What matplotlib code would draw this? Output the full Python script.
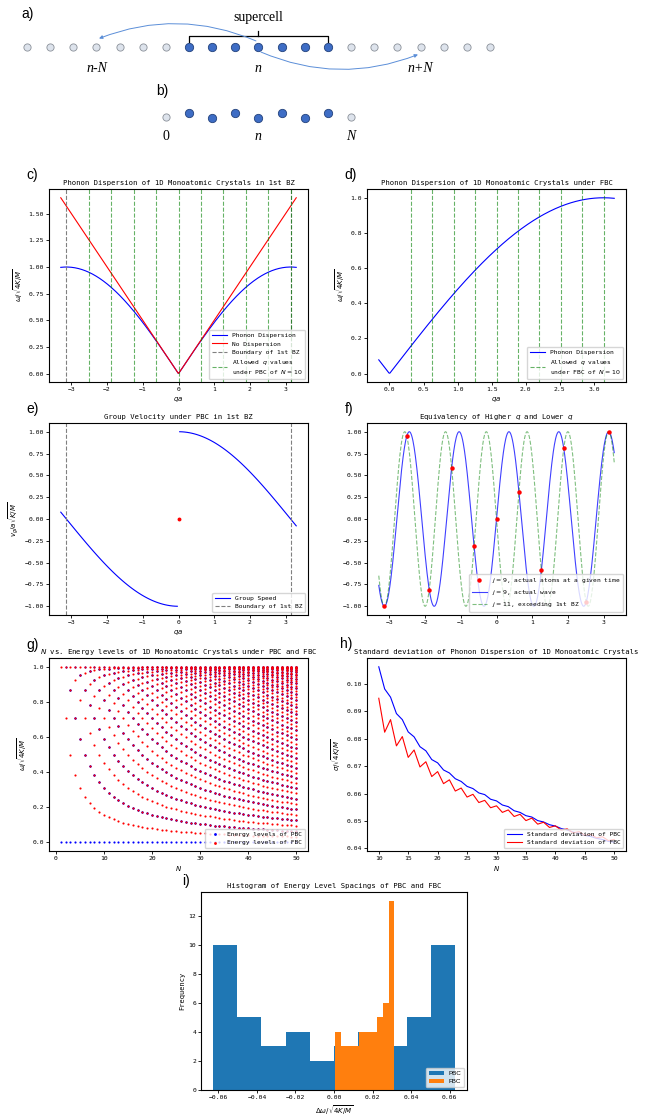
import numpy as np
import matplotlib
matplotlib.use('Agg')
import matplotlib.pyplot as plt
from matplotlib.patches import FancyArrowPatch

# ---------------- data ----------------
# schematic a): atom indices in the infinite chain, supercell members
chain_index = np.arange(-10, 11)
supercell_index = np.arange(-3, 4)
chain_label_index = [-7, 0, 7]
chain_labels = ['n-N', 'n', 'n+N']
# schematic b): finite chain with fixed ends, relative displacement of atoms
fbc_index = np.arange(-4, 5)
fbc_disp = [0, -1, 1, -1, 1, -1, 1, -1, 0]
fbc_label_index = [-4, 0, 4]
fbc_labels = ['0', 'n', 'N']

# dispersion panels
N_demo = 10
qa_extent_factor = 1.05
pbc_allowed_j = np.arange(-4, 6)
fbc_allowed_j = np.arange(1, 11)

# equivalence panel
wave_j = 9
alias_j = 11
atom_n = np.arange(-5, 6)

# energy level panel
N_levels = np.arange(1, 51)

# standard deviation panel
N_std = np.arange(10, 51)
std_pbc = [0.1063, 0.0982, 0.0952, 0.0892, 0.0870, 0.0825, 0.0807, 0.0771, 0.0756, 0.0724,
           0.0712, 0.0686, 0.0675, 0.0654, 0.0644, 0.0626, 0.0618, 0.0602, 0.0596, 0.0579,
           0.0573, 0.0558, 0.0552, 0.0537, 0.0531, 0.0519, 0.0514, 0.0501, 0.0496, 0.0486,
           0.0481, 0.0472, 0.0467, 0.0459, 0.0455, 0.0447, 0.0443, 0.0436, 0.0432, 0.0425,
           0.0422]
std_fbc = [0.0948, 0.0824, 0.0870, 0.0774, 0.0808, 0.0732, 0.0759, 0.0697, 0.0716, 0.0662,
           0.0680, 0.0636, 0.0650, 0.0609, 0.0620, 0.0587, 0.0597, 0.0567, 0.0575, 0.0548,
           0.0555, 0.0531, 0.0540, 0.0516, 0.0524, 0.0501, 0.0510, 0.0488, 0.0495, 0.0476,
           0.0482, 0.0466, 0.0471, 0.0456, 0.0461, 0.0447, 0.0451, 0.0438, 0.0442, 0.0428,
           0.0432]

# histogram panel
hist_pbc_edges = np.linspace(-0.0628, 0.0628, 11)
hist_pbc_counts = [10, 5, 3, 4, 2, 3, 4, 3, 5, 10]
hist_fbc_edges = np.linspace(0.00049, 0.0314, 11)
hist_fbc_counts = [4, 3, 3, 3, 4, 4, 4, 5, 6, 13]

# ---------------- style ----------------
plt.rcParams['font.family'] = ['DejaVu Sans Mono', 'DejaVu Sans']
plt.rcParams['font.size'] = 4.6
plt.rcParams['axes.linewidth'] = 0.8
plt.rcParams['xtick.major.size'] = 2
plt.rcParams['ytick.major.size'] = 2
plt.rcParams['xtick.major.width'] = 0.6
plt.rcParams['ytick.major.width'] = 0.6
plt.rcParams['xtick.major.pad'] = 1.5
plt.rcParams['ytick.major.pad'] = 1.5
plt.rcParams['xtick.labelsize'] = 4.6
plt.rcParams['ytick.labelsize'] = 4.6
plt.rcParams['axes.labelsize'] = 5
plt.rcParams['axes.titlesize'] = 5.2
plt.rcParams['axes.titlepad'] = 3
plt.rcParams['axes.labelpad'] = 2.5
plt.rcParams['legend.fontsize'] = 4.5
plt.rcParams['legend.handlelength'] = 2.4
plt.rcParams['lines.linewidth'] = 0.8

W, H = 656, 1119
fig = plt.figure(figsize=(W / 100, H / 100), dpi=100)


def rect(l, t, r, b):
    return [l / W, 1 - b / H, (r - l) / W, (b - t) / H]


def label(txt, x, y, size=10):
    fig.text(x / W, 1 - y / H, txt, ha='left', va='center', fontsize=size,
             family=['Liberation Sans', 'DejaVu Sans'])


# ---------------- schematic ----------------
x0px, dpx = 27, 23.15
ax0 = fig.add_axes([0, 1 - 150 / H, 1, 150 / H])
ax0.set_xlim(-10 - x0px / dpx, -10 + (W - x0px) / dpx)
ax0.set_ylim(150, 0)
ax0.axis('off')

light_fc, light_ec = '#dde3ec', '#8b9099'
dark_fc, dark_ec = '#3e6dc5', '#23427c'
row_a = 47
is_dark = np.isin(chain_index, supercell_index)
ax0.scatter(chain_index[~is_dark], np.full((~is_dark).sum(), row_a), s=27,
            fc=light_fc, ec=light_ec, lw=0.6, zorder=3)
ax0.scatter(chain_index[is_dark], np.full(is_dark.sum(), row_a), s=36,
            fc=dark_fc, ec=dark_ec, lw=0.6, zorder=3)
# bracket
bl, br = supercell_index.min(), supercell_index.max()
bc = supercell_index.mean()
ax0.plot([bl, bl, br, br], [42, 36, 36, 42], color='black', lw=0.9)
ax0.plot([bc, bc], [36, 31], color='black', lw=0.9)
ax0.text(bc, 18, 'supercell', ha='center', va='center', fontsize=10,
         family='Liberation Serif')
for i, t in zip(chain_label_index, chain_labels):
    ax0.text(i, 68, t, ha='center', va='center', fontsize=10,
             family='Liberation Serif', style='italic')
arrow_c = '#5b8ed8'
a1 = FancyArrowPatch((0, 42), (chain_label_index[0], 39.5),
                     connectionstyle='arc3,rad=0.21', arrowstyle='-|>',
                     mutation_scale=5, color=arrow_c, lw=0.7, zorder=4)
a2 = FancyArrowPatch((0, 51), (chain_label_index[2], 53.5),
                     connectionstyle='arc3,rad=0.21', arrowstyle='-|>',
                     mutation_scale=5, color=arrow_c, lw=0.7, zorder=4)
ax0.add_patch(a1)
ax0.add_patch(a2)

# b)
row_b = 115.5
disp_scale = 2.6
ydisp = row_b + disp_scale * np.array(fbc_disp)
ends = np.array([i in (fbc_index.min(), fbc_index.max()) for i in fbc_index])
ax0.scatter(fbc_index[ends], ydisp[ends] + 1.5, s=27, fc=light_fc, ec=light_ec, lw=0.6, zorder=3)
ax0.scatter(fbc_index[~ends], ydisp[~ends], s=36, fc=dark_fc, ec=dark_ec, lw=0.6, zorder=3)
for i, t in zip(fbc_label_index, fbc_labels):
    ax0.text(i, 137, t, ha='center', va='center', fontsize=10,
             family='Liberation Serif', style='normal' if t == '0' else 'italic')

label('a)', 21, 14)
label('b)', 156, 91)

# ---------------- c) ----------------
qmax = qa_extent_factor * np.pi
q = np.linspace(-qmax, qmax, 400)
axc = fig.add_axes(rect(49, 189, 308, 382))
axc.plot(q, np.abs(np.sin(q / 2)), color='blue', label='Phonon Dispersion')
axc.plot(q, np.abs(q) / 2, color='red', label='No Dispersion')
axc.axvline(-np.pi, color='gray', ls='--', lw=0.8, label='Boundary of 1st BZ')
axc.axvline(np.pi, color='gray', ls='--', lw=0.8)
for k, j in enumerate(pbc_allowed_j):
    axc.axvline(2 * np.pi * j / N_demo, color='green', alpha=0.6, ls='--', lw=0.8,
                label=('Allowed $q$ values\nunder PBC of $N=10$' if k == 0 else None))
axc.set_title('Phonon Dispersion of 1D Monoatomic Crystals in 1st BZ')
axc.set_xlabel('$qa$')
axc.set_ylabel(r'$\omega/\sqrt{4K/M}$')
axc.legend(loc='lower right')
label('c)', 26, 175)

# ---------------- d) ----------------
qd = np.linspace(-(qa_extent_factor - 1) * np.pi, qmax, 300)
axd = fig.add_axes(rect(367, 189, 626, 382))
axd.plot(qd, np.abs(np.sin(qd / 2)), color='blue', label='Phonon Dispersion')
for k, j in enumerate(fbc_allowed_j):
    axd.axvline(np.pi * j / N_demo, color='green', alpha=0.6, ls='--', lw=0.8,
                label=('Allowed $q$ values\nunder FBC of $N=10$' if k == 0 else None))
axd.set_title('Phonon Dispersion of 1D Monoatomic Crystals under FBC')
axd.set_xlabel('$qa$')
axd.set_ylabel(r'$\omega/\sqrt{4K/M}$')
axd.legend(loc='lower right')
label('d)', 344, 175)

# ---------------- e) ----------------
qe = np.linspace(-qmax, qmax, 100)
axe = fig.add_axes(rect(49, 423, 308, 615))
neg = qe < 0
pos = qe > 0
axe.plot(qe[neg], -np.cos(qe[neg] / 2), color='blue', label='Group Speed')
axe.plot(qe[pos], np.cos(qe[pos] / 2), color='blue')
axe.plot([0], [0], 'o', color='red', ms=1.8)
axe.axvline(-np.pi, color='gray', ls='--', lw=0.8, label='Boundary of 1st BZ')
axe.axvline(np.pi, color='gray', ls='--', lw=0.8)
axe.set_title('Group Velocity under PBC in 1st BZ')
axe.set_xlabel('$qa$')
axe.set_ylabel(r'$v_g/a\sqrt{K/M}$')
axe.legend(loc='lower right')
label('e)', 26, 409)

# ---------------- f) ----------------
xf = np.linspace(-qmax, qmax, 600)
xa = 2 * np.pi * atom_n / N_demo
axf = fig.add_axes(rect(367, 423, 626, 615))
axf.plot(xa, np.sin(wave_j * xa / 2), 'o', color='red', ms=2.2,
         label='$j=9$, actual atoms at a given time', zorder=3)
axf.plot(xf, np.sin(wave_j * xf / 2), color='blue', alpha=0.75, label='$j=9$, actual wave')
axf.plot(xf, -np.sin(alias_j * xf / 2), color='green', alpha=0.5, ls='--',
         label='$j=11$, exceeding 1st BZ')
axf.set_title('Equivalency of Higher $q$ and Lower $q$')
axf.legend(loc='lower right')
label('f)', 345, 409)

# ---------------- g) ----------------
axg = fig.add_axes(rect(49, 658, 308, 851))
px, py, fx, fy = [], [], [], []
for N in N_levels:
    jp = np.arange(N)
    px.append(np.full(N, N))
    py.append(np.abs(np.sin(np.pi * jp / N)))
    jf = np.arange(1, N + 1)
    fx.append(np.full(N, N))
    fy.append(np.sin(np.pi * jf / (2 * N)))
axg.scatter(np.concatenate(px), np.concatenate(py), s=2.4, color='blue', lw=0,
            label='Energy levels of PBC')
axg.scatter(np.concatenate(fx), np.concatenate(fy), s=2.4, color='red', lw=0,
            label='Energy levels of FBC')
axg.set_title('$N$ vs. Energy levels of 1D Monoatomic Crystals under PBC and FBC')
axg.set_xlabel('$N$')
axg.set_ylabel(r'$\omega/\sqrt{4K/M}$')
axg.legend(loc='lower right', markerscale=1.3)
label('g)', 26, 645)

# ---------------- h) ----------------
axh = fig.add_axes(rect(367, 658, 626, 851))
axh.plot(N_std, std_pbc, color='blue', label='Standard deviation of PBC')
axh.plot(N_std, std_fbc, color='red', label='Standard deviation of FBC')
axh.set_title('Standard deviation of Phonon Dispersion of 1D Monoatomic Crystals')
axh.set_xlabel('$N$')
axh.set_ylabel(r'$\sigma/\sqrt{4K/M}$')
axh.legend(loc='lower right')
label('h)', 340, 644)

# ---------------- i) ----------------
axi = fig.add_axes(rect(201, 892, 467, 1090))
axi.hist(hist_pbc_edges[:-1], bins=hist_pbc_edges, weights=hist_pbc_counts,
         color='tab:blue', label='PBC')
axi.hist(hist_fbc_edges[:-1], bins=hist_fbc_edges, weights=hist_fbc_counts,
         color='tab:orange', label='FBC')
axi.set_title('Histogram of Energy Level Spacings of PBC and FBC')
axi.set_xlabel(r'$\Delta\omega/\sqrt{4K/M}$')
axi.set_ylabel('Frequency')
axi.legend(loc='lower right', prop={'family': ['Liberation Sans', 'DejaVu Sans'], 'size': 4.5})
label('i)', 182, 881)

fig.savefig('out.png', dpi=100)
